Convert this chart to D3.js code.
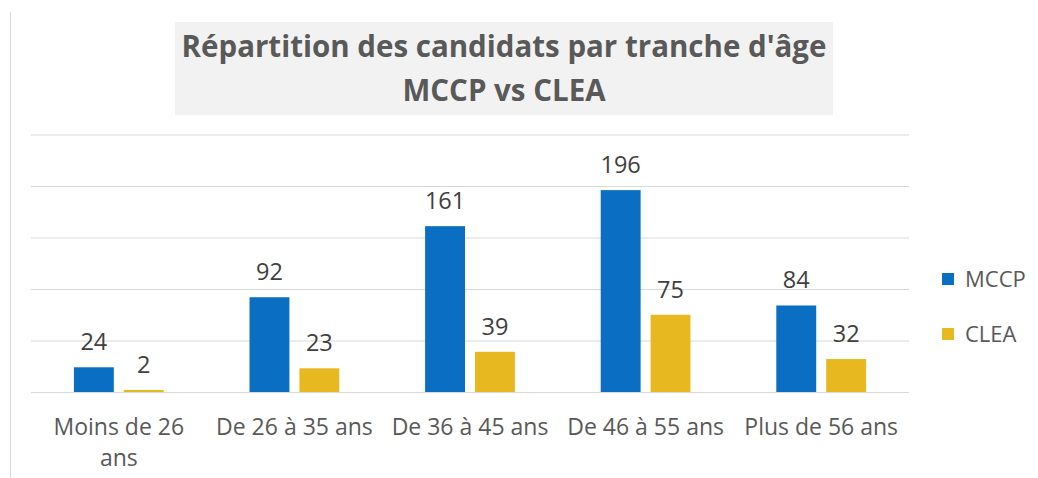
<!DOCTYPE html>
<html>
<head>
<meta charset="utf-8">
<script src="https://cdn.jsdelivr.net/npm/d3@7"></script>
<style>
  body { margin: 0; background: #fff; }
  svg { display: block; }
</style>
</head>
<body>
<div id="chart"></div>
<script>
// chart data
const categories = ['Moins de 26\nans', 'De 26 à 35 ans', 'De 36 à 45 ans', 'De 46 à 55 ans', 'Plus de 56 ans'];
const seriesNames = ['MCCP', 'CLEA'];
const mccpValues = [24, 92, 161, 196, 84];
const cleaValues = [2, 23, 39, 75, 32];
const yTicks = [0, 50, 100, 150, 200, 250];
const titleLines = ["Répartition des candidats par tranche d'âge", 'MCCP vs CLEA'];

const colors = d3.scaleOrdinal()
  .domain(seriesNames)
  .range(['#0a6fc2', '#e8b820']);

const width = 1038;
const height = 478;
const plot = {left: 31, right: 909, top: 134.5, bottom: 392};
const font = '"Open Sans", "DejaVu Sans", sans-serif';

let svg = d3.select('#chart').append('svg')
  .attr('width', width)
  .attr('height', height);

// frame line on the left
svg.append('line')
  .attr('x1', 10.5).attr('x2', 10.5)
  .attr('y1', 12).attr('y2', height)
  .attr('stroke', '#d9d9d9');

// title with grey background
svg.append('rect')
  .attr('x', 175).attr('y', 22)
  .attr('width', 658).attr('height', 93)
  .attr('fill', '#f2f2f2');

svg.append('g')
  .selectAll('text')
  .data(titleLines)
  .enter().append('text')
  .attr('x', 504)
  .attr('y', (d, i) => 57 + i * 44)
  .attr('text-anchor', 'middle')
  .attr('font-family', font)
  .attr('font-weight', 'bold')
  .attr('font-size', 29.5)
  .attr('fill', '#595959')
  .text(d => d);

// scales
let x0 = d3.scaleBand()
  .domain(categories)
  .range([plot.left, plot.right]);

let x1 = d3.scaleBand()
  .domain(seriesNames)
  .range([0, x0.bandwidth()])
  .paddingInner(0.2)
  .paddingOuter(0.86);

let y = d3.scaleLinear()
  .domain([0, 250])
  .range([plot.bottom, plot.top]);

// grid
svg.append('g')
  .attr('class', 'grid')
  .attr('transform', 'translate(' + plot.left + ',0)')
  .call(d3.axisLeft(y)
    .tickValues(yTicks)
    .tickSize(-(plot.right - plot.left))
    .tickFormat(''))
  .call(g => g.select('.domain').remove())
  .call(g => g.selectAll('line').attr('stroke', '#d9d9d9'));

// bars
let rows = categories.map((c, i) => ({cat: c, MCCP: mccpValues[i], CLEA: cleaValues[i]}));

let groups = svg.append('g')
  .selectAll('g')
  .data(rows)
  .enter().append('g')
  .attr('transform', d => 'translate(' + x0(d.cat) + ',0)');

let cells = groups.selectAll('g')
  .data(d => seriesNames.map(k => ({key: k, value: d[k]})))
  .enter().append('g');

cells.append('rect')
  .attr('x', d => x1(d.key))
  .attr('y', d => y(d.value))
  .attr('width', x1.bandwidth())
  .attr('height', d => y(0) - y(d.value))
  .attr('fill', d => colors(d.key));

cells.append('text')
  .attr('x', d => x1(d.key) + x1.bandwidth() / 2)
  .attr('y', d => y(d.value) - 17)
  .attr('text-anchor', 'middle')
  .attr('font-family', font)
  .attr('font-size', 23.5)
  .attr('fill', '#404040')
  .text(d => d.value);

// x axis labels
let xAxis = svg.append('g')
  .attr('transform', 'translate(0,' + plot.bottom + ')')
  .call(d3.axisBottom(x0).tickSize(0).tickFormat(''));
xAxis.select('.domain').remove();

xAxis.selectAll('.tick').each(function(d) {
  let t = d3.select(this).append('text')
    .attr('text-anchor', 'middle')
    .attr('font-family', font)
    .attr('font-size', 23)
    .attr('fill', '#595959');
  d.split('\n').forEach((line, i) => {
    t.append('tspan')
      .attr('x', 0)
      .attr('y', 43 + i * 31)
      .text(line);
  });
});

// legend
let legend = svg.append('g')
  .selectAll('g')
  .data(seriesNames)
  .enter().append('g')
  .attr('transform', (d, i) => 'translate(942,' + (273 + i * 55) + ')');

legend.append('rect')
  .attr('width', 12)
  .attr('height', 12)
  .attr('fill', colors);

legend.append('text')
  .attr('x', 23)
  .attr('y', 14)
  .attr('font-family', font)
  .attr('font-size', 22)
  .attr('fill', '#595959')
  .text(d => d);
</script>
</body>
</html>
